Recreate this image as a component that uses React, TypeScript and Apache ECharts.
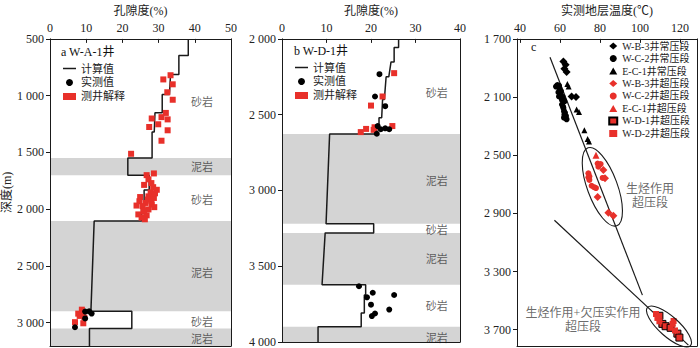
import React, { useEffect, useRef } from 'react';
import * as echarts from 'echarts';

const FONT = "'Liberation Serif', 'Noto Sans CJK SC', serif";
const RED = '#e8302a';
const GRAY = '#d4d4d4';
const INK = '#1a1a1a';

// ---------- Panel a : W-A-1 ----------
const calcA_poro = [38.2, 38.2, 35.6, 35.6, 33.3, 33.0, 31.0, 31.0, 29.0, 28.8, 28.2, 28.2, 21.5, 21.5, 27.4, 27.4, 26.0, 26.0, 25.3, 25.3, 12.2, 11.3, 22.6, 22.6, 10.9, 10.9];
const calcA_depth = [500, 647, 647, 814, 814, 990, 990, 1150, 1150, 1320, 1320, 1550, 1550, 1700, 1700, 1830, 1830, 1960, 1960, 2105, 2105, 2900, 2900, 3050, 3050, 3205];
const measA_poro = [9.7, 11.5, 10.8, 9.7, 6.9];
const measA_depth = [2902, 2919, 2900, 2962, 3040];
const logA_poro = [33.3, 31.3, 33.9, 32.4, 33.9, 32.0, 30.8, 32.5, 28.1, 29.9, 27.4, 32.5, 30.8, 22.4, 28.7,
  26.7, 27.2, 26.0, 28.5, 29.5, 27.8, 24.9, 27.2, 28.7, 24.7, 26.4, 28.1, 23.9, 25.6, 28.8, 27.2, 25.8, 24.4, 26.7, 25.3, 26.2, 28.0, 29.0, 27.0, 26.0, 28.0,
  8.8, 7.8, 9.5, 6.9, 9.2, 8.2, 9.0];
const logA_depth = [820, 857, 900, 970, 1036, 1152, 1189, 1209, 1201, 1252, 1276, 1305, 1397, 1512, 1685,
  1700, 1737, 1786, 1806, 1829, 1852, 1893, 1887, 1901, 1930, 1945, 1959, 1968, 1973, 1982, 2002, 2022, 2046, 2054, 2074, 2089, 1770, 1860, 1915, 2010, 1930,
  2885, 2920, 2955, 2995, 3005, 2940, 2905];
const lithA_name = ['砂岩', '泥岩', '砂岩', '泥岩', '砂岩', '泥岩'];
const lithA_top = [500, 1550, 1700, 2105, 2900, 3050];
const lithA_bottom = [1550, 1700, 2105, 2900, 3050, 3205];
const lithA_labelDepth = [1060, 1625, 1915, 2560, 2990, 3140];

// ---------- Panel b : W-D-1 ----------
const calcB_poro = [26.2, 26.2, 25.2, 25.2, 24.5, 24.0, 23.4, 23.0, 22.6, 22.4, 21.8, 21.8, 21.3, 21.3, 10.7, 9.9, 20.6, 20.6, 9.7, 9.0, 18.8, 18.8, 18.5, 18.5, 17.8, 17.8, 8.1, 8.1];
const calcB_depth = [2000, 2056, 2056, 2152, 2152, 2250, 2250, 2400, 2400, 2520, 2520, 2580, 2580, 2628, 2628, 3220, 3220, 3280, 3280, 3622, 3622, 3690, 3690, 3808, 3808, 3900, 3900, 4000];
const measB_poro = [21.9, 20.9, 23.2, 21.5, 22.2, 23.2, 24.1, 21.3, 17.3, 20.4, 25.2, 19.1, 20.0, 24.1, 20.9, 20.2];
const measB_depth = [2233, 2380, 2444, 2575, 2596, 2590, 2596, 2626, 3632, 3675, 3690, 3705, 3754, 3786, 3812, 3829];
const logB_poro = [25.2, 22.6, 20.0, 24.8, 20.8, 18.9, 17.7, 20.6];
const logB_depth = [2226, 2380, 2440, 2575, 2583, 2594, 2615, 2600];
const lithB_name = ['砂岩', '泥岩', '砂岩', '泥岩', '砂岩', '泥岩'];
const lithB_top = [2000, 2628, 3220, 3280, 3622, 3900];
const lithB_bottom = [2628, 3220, 3280, 3622, 3900, 4000];
const lithB_labelDepth = [2354, 2935, 3258, 3455, 3765, 3972];

// ---------- Panel c : temperature ----------
const wb3n_t = [61.7, 62.8, 62.2, 63.3, 65.8, 68.0];
const wb3n_d = [1855, 1878, 1905, 1927, 2096, 2100];
const wc2n_t = [58.7, 58.0, 59.5, 59.7, 59.2, 60.3, 60.0, 59.5, 61.3, 60.8, 61.7, 62.2, 61.0, 61.5, 61.7, 62.0, 62.5, 62.2, 63.0, 63.3, 62.0, 60.5, 61.0];
const wc2n_d = [2017, 2028, 2022, 2040, 2067, 2073, 2085, 2096, 2098, 2107, 2118, 2130, 2152, 2165, 2175, 2197, 2208, 2220, 2231, 2253, 2242, 2060, 2120];
const ec1n_t = [63.7, 64.3, 68.3, 69.5, 72.2, 73.8, 74.5];
const ec1n_d = [2011, 2028, 2186, 2202, 2328, 2388, 2406];
const wb3o_t = [81.7, 82.5, 84.2, 86.7, 78.8];
const wb3o_d = [2602, 2658, 2895, 2917, 2787];
const wc2o_t = [78.8, 80.3, 79.2, 74.2, 74.7, 74.2, 74.7, 75.8, 77.0, 78.0, 81.3];
const wc2o_d = [2557, 2561, 2579, 2624, 2646, 2652, 2670, 2710, 2720, 2726, 2656];
const ec1o_t = [78.0, 116.2];
const ec1o_d = [2501, 3648];
const wd1o_t = [109.7, 111.2, 112.8, 115.3, 118.7, 119.7];
const wd1o_d = [3604, 3660, 3676, 3687, 3727, 3754];
const wd2o_t = [108.0, 108.7, 109.7, 116.3, 117.5, 116.8];
const wd2o_d = [3592, 3619, 3642, 3660, 3705, 3640];
const trend1_t = [55.0, 101.2];
const trend1_d = [1826, 3462];
const trend2_t = [57.2, 124.2];
const trend2_d = [2947, 3806];
// ellipse long-axis end points (temperature, depth) and half-width in px
const ell1_t = [74.0, 88.35];
const ell1_d = [2449, 2985];
const ell2_t = [103.75, 125.25];
const ell2_d = [3547, 3809];
const ellHalfWidth = [15, 10];
const note_text = ['生烃作用\n超压段', '生烃作用+欠压实作用\n超压段'];
const note_t = [105, 71.5];
const note_d = [2780, 3630];

// tick values
const xTicksA = [0, 10, 20, 30, 40, 50];
const yTicksA = [500, 1000, 1500, 2000, 2500, 3000];
const xTicksB = [0, 10, 20, 30, 40];
const yTicksB = [2000, 2500, 3000, 3500, 4000];
const xTicksC = [40, 60, 80, 100, 120];
const yTicksC = [1700, 2100, 2500, 2900, 3300, 3700];

const zip = (a: number[], b: number[]) => a.map((v, i) => [v, b[i]]);
const fmt = (v: number) => {
  const s = String(v);
  return s.length > 3 ? s.slice(0, s.length - 3) + ' ' + s.slice(-3) : s;
};

function xTop(gi: number, min: number, max: number, ticks: number[], name: string) {
  return {
    type: 'value', gridIndex: gi, position: 'top', min, max, name,
    nameLocation: 'middle', nameGap: 21,
    nameTextStyle: { fontFamily: FONT, fontSize: 12, color: '#222' },
    axisLine: { show: true, onZero: false, lineStyle: { color: INK, width: 1 } },
    axisTick: { show: true, inside: true, length: 4, customValues: ticks, lineStyle: { color: INK } },
    axisLabel: { show: true, customValues: ticks, fontFamily: FONT, fontSize: 12, color: '#222', margin: 5 },
    splitLine: { show: false }, z: 10,
  };
}
function xBottom(gi: number, min: number, max: number) {
  return {
    type: 'value', gridIndex: gi, position: 'bottom', min, max,
    axisLine: { show: true, onZero: false, lineStyle: { color: INK, width: 1 } },
    axisTick: { show: false }, axisLabel: { show: false }, splitLine: { show: false }, z: 10,
  };
}
function yLeft(gi: number, min: number, max: number, ticks: number[], name?: string) {
  return {
    type: 'value', gridIndex: gi, position: 'left', inverse: true, min, max,
    name: name || '', nameLocation: 'middle', nameGap: 36, nameRotate: 90,
    nameTextStyle: { fontFamily: FONT, fontSize: 12, color: '#222' },
    axisLine: { show: true, onZero: false, lineStyle: { color: INK, width: 1 } },
    axisTick: { show: true, inside: false, length: 4, customValues: ticks, lineStyle: { color: INK } },
    axisLabel: { show: true, customValues: ticks, formatter: fmt, fontFamily: FONT, fontSize: 12, color: '#222', margin: 6 },
    splitLine: { show: false }, z: 10,
  };
}
function yRight(gi: number, min: number, max: number) {
  return {
    type: 'value', gridIndex: gi, position: 'right', inverse: true, min, max,
    axisLine: { show: true, onZero: false, lineStyle: { color: INK, width: 1 } },
    axisTick: { show: false }, axisLabel: { show: false }, splitLine: { show: false }, z: 10,
  };
}

function lithSeries(ax: number, names: string[], tops: number[], bottoms: number[], labelDepth: number[], xPos: number) {
  return {
    type: 'scatter', name: 'lith' + ax, xAxisIndex: ax * 2, yAxisIndex: ax * 2, silent: true,
    symbolSize: 0,
    data: names.map((n, i) => ({ name: n, value: [xPos, labelDepth[i]] })),
    label: { show: true, position: 'inside', formatter: '{b}', fontFamily: FONT, fontSize: 11, color: '#3a3a3a' },
    markArea: {
      silent: true,
      itemStyle: { color: GRAY },
      data: names.map((n, i) => (n === '泥岩' ? [{ yAxis: tops[i] }, { yAxis: bottoms[i] }] : null)).filter(Boolean),
    },
  };
}

function porosityPanel(ax: number, calcX: number[], calcY: number[], measX: number[], measY: number[], logX: number[], logY: number[]) {
  return [
    {
      type: 'line', name: '计算值', xAxisIndex: ax * 2, yAxisIndex: ax * 2, data: zip(calcX, calcY),
      symbol: 'none', lineStyle: { color: INK, width: 1.5 }, itemStyle: { color: INK }, z: 3,
    },
    {
      type: 'scatter', name: '测井解释', xAxisIndex: ax * 2, yAxisIndex: ax * 2, data: zip(logX, logY),
      symbol: 'rect', symbolSize: 6, itemStyle: { color: RED, opacity: 1 }, z: 4,
    },
    {
      type: 'scatter', name: '实测值', xAxisIndex: ax * 2, yAxisIndex: ax * 2, data: zip(measX, measY),
      symbol: 'circle', symbolSize: 6, itemStyle: { color: '#000', opacity: 1 }, z: 5,
    },
  ];
}

function tempSeries(name: string, t: number[], d: number[], symbol: string, color: string, size: number, border?: boolean) {
  return {
    type: 'scatter', name, xAxisIndex: 4, yAxisIndex: 4, data: zip(t, d), symbol, symbolSize: size,
    itemStyle: border ? { color, borderColor: '#000', borderWidth: 1, opacity: 1 } : { color, opacity: 1 }, z: 4,
  };
}

const LINE_ICON = 'path://M0 0H26V3H0Z';

export default function App() {
  const ref = useRef<HTMLDivElement>(null);
  useEffect(() => {
    const chart = echarts.init(ref.current!, null, { renderer: 'svg' });
    const cLegend = ['W-B-3井常压段', 'W-C-2井常压段', 'E-C-1井常压段', 'W-B-3井超压段', 'W-C-2井超压段', 'E-C-1井超压段', 'W-D-1井超压段', 'W-D-2井超压段'];
    const abLegend = [{ name: '计算值', icon: LINE_ICON }, { name: '实测值' }, { name: '测井解释' }];
    const option: any = {
      animation: false,
      backgroundColor: '#fff',
      textStyle: { fontFamily: FONT },
      grid: [
        { left: 50, top: 33, width: 181, height: 313 },
        { left: 282, top: 33, width: 178, height: 312 },
        { left: 517, top: 33, width: 180, height: 313 },
      ],
      title: [
        { text: 'a W-A-1井', left: 56, top: 41, textStyle: { fontFamily: FONT, fontSize: 12, fontWeight: 'normal', color: '#111' } },
        { text: 'b W-D-1井', left: 289, top: 40, textStyle: { fontFamily: FONT, fontSize: 12, fontWeight: 'normal', color: '#111' } },
        { text: 'c', left: 526, top: 36, textStyle: { fontFamily: FONT, fontSize: 12, fontWeight: 'normal', color: '#111' } },
      ],
      legend: [
        {
          left: 58, top: 58, orient: 'vertical', itemWidth: 13, itemHeight: 7, itemGap: 3,
          data: abLegend, selectedMode: false,
          textStyle: { fontFamily: FONT, fontSize: 11, color: '#222' },
        },
        {
          left: 290, top: 57, orient: 'vertical', itemWidth: 13, itemHeight: 7, itemGap: 3,
          data: abLegend, selectedMode: false,
          textStyle: { fontFamily: FONT, fontSize: 11, color: '#222' },
        },
        {
          right: 5, top: 36, orient: 'vertical', align: 'left', itemWidth: 8, itemHeight: 7, itemGap: 2.5,
          data: cLegend, selectedMode: false,
          textStyle: { fontFamily: FONT, fontSize: 10, color: '#222' },
        },
      ],
      xAxis: [
        xTop(0, 0, 50, xTicksA, '孔隙度(%)'), xBottom(0, 0, 50),
        xTop(1, 0, 40, xTicksB, '孔隙度(%)'), xBottom(1, 0, 40),
        xTop(2, 38.5, 128.5, xTicksC, '实测地层温度(℃)'), xBottom(2, 38.5, 128.5),
      ],
      yAxis: [
        yLeft(0, 500, 3205, yTicksA, '深度(m)'), yRight(0, 500, 3205),
        yLeft(1, 2000, 4000, yTicksB), yRight(1, 2000, 4000),
        yLeft(2, 1700, 3812, yTicksC), yRight(2, 1700, 3812),
      ],
      series: [
        lithSeries(0, lithA_name, lithA_top, lithA_bottom, lithA_labelDepth, 42),
        ...porosityPanel(0, calcA_poro, calcA_depth, measA_poro, measA_depth, logA_poro, logA_depth),
        lithSeries(1, lithB_name, lithB_top, lithB_bottom, lithB_labelDepth, 34.8),
        ...porosityPanel(1, calcB_poro, calcB_depth, measB_poro, measB_depth, logB_poro, logB_depth),
        {
          type: 'line', name: 'trend1', xAxisIndex: 4, yAxisIndex: 4, data: zip(trend1_t, trend1_d),
          symbol: 'none', lineStyle: { color: INK, width: 1.2 }, silent: true, z: 3,
        },
        {
          type: 'line', name: 'trend2', xAxisIndex: 4, yAxisIndex: 4, data: zip(trend2_t, trend2_d),
          symbol: 'none', lineStyle: { color: INK, width: 1.2 }, silent: true, z: 3,
        },
        tempSeries('W-B-3井常压段', wb3n_t, wb3n_d, 'diamond', '#000', 8),
        tempSeries('W-C-2井常压段', wc2n_t, wc2n_d, 'circle', '#000', 6),
        tempSeries('E-C-1井常压段', ec1n_t, ec1n_d, 'triangle', '#000', 6),
        tempSeries('W-B-3井超压段', wb3o_t, wb3o_d, 'diamond', RED, 8),
        tempSeries('W-C-2井超压段', wc2o_t, wc2o_d, 'circle', RED, 6),
        tempSeries('E-C-1井超压段', ec1o_t, ec1o_d, 'triangle', RED, 7),
        tempSeries('W-D-1井超压段', wd1o_t, wd1o_d, 'rect', RED, 7, true),
        tempSeries('W-D-2井超压段', wd2o_t, wd2o_d, 'rect', RED, 6),
        {
          type: 'scatter', name: 'notes', xAxisIndex: 4, yAxisIndex: 4, silent: true, symbolSize: 0,
          data: note_text.map((n, i) => ({ name: n, value: [note_t[i], note_d[i]] })),
          label: { show: true, position: 'inside', formatter: '{b}', fontFamily: FONT, fontSize: 12, lineHeight: 14, color: '#444', align: 'center' },
        },
      ],
    };
    chart.setOption(option);

    const ellipses = [0, 1].map((k) => {
      const ts = k === 0 ? ell1_t : ell2_t;
      const ds = k === 0 ? ell1_d : ell2_d;
      const p1 = chart.convertToPixel({ gridIndex: 2 }, [ts[0], ds[0]]) as number[];
      const p2 = chart.convertToPixel({ gridIndex: 2 }, [ts[1], ds[1]]) as number[];
      const dx = p2[0] - p1[0];
      const dy = p2[1] - p1[1];
      const half = Math.sqrt(dx * dx + dy * dy) / 2;
      return {
        type: 'ellipse', silent: true, z: 20,
        x: (p1[0] + p2[0]) / 2, y: (p1[1] + p2[1]) / 2,
        rotation: Math.atan2(dx, dy),
        shape: { cx: 0, cy: 0, rx: ellHalfWidth[k], ry: half },
        style: { fill: 'none', stroke: INK, lineWidth: 1.1 },
      };
    });
    chart.setOption({ graphic: ellipses });
    return () => chart.dispose();
  }, []);
  return <div ref={ref} style={{ position: 'fixed', left: 0, top: 0, width: 700, height: 348 }} />;
}
